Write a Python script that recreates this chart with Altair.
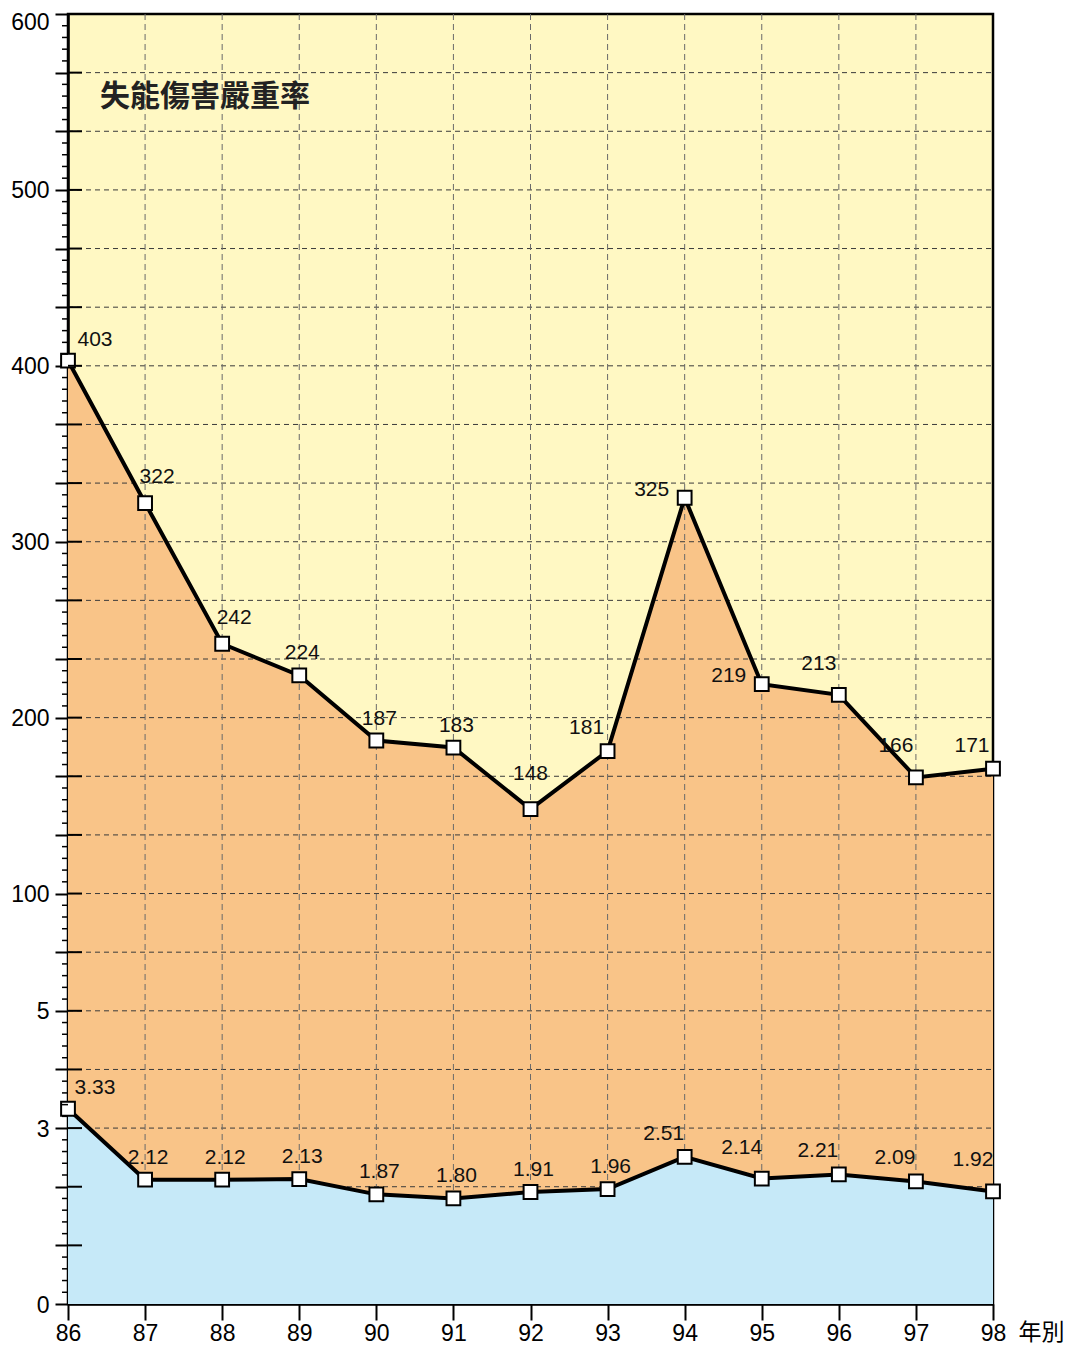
import altair as alt
import pandas as pd

# ---------------- data ----------------
years = [86, 87, 88, 89, 90, 91, 92, 93, 94, 95, 96, 97, 98]
severity = [403, 322, 242, 224, 187, 183, 148, 181, 325, 219, 213, 166, 171]
frequency = [3.33, 2.12, 2.12, 2.13, 1.87, 1.80, 1.91, 1.96, 2.51, 2.14, 2.21, 2.09, 1.92]

# where each value label sits relative to its point (compass-style placement)
severity_label_side = ["first", "ne", "ne", "n", "n", "n", "nn", "nw", "w", "w", "nnw", "nnw", "nw"]
frequency_label_side = ["first", "n", "n", "n", "n", "n", "n", "n", "nw", "nnw", "nw", "nw", "nnw"]

title_text = "失能傷害嚴重率"
x_title = "年別"

# broken y axis: 0..5 (lower), gap, 100..600 (upper); ticks in grid units
y_tick_units = [0, 3, 5, 7, 10, 13, 16, 19, 22]
y_tick_labels = ["0", "3", "5", "100", "200", "300", "400", "500", "600"]

YELLOW = "#FFF8C3"
ORANGE = "#F9C488"
BLUE = "#C6E9F8"

W, H = 925, 1290

# label placement styles: (dx, dy) for centred text
SIDE_STYLE = {
    "first": (27, -21),
    "ne": (12, -26),
    "n": (3, -22),
    "nn": (0, -35),
    "nw": (-21, -23),
    "nnw": (-20, -31),
    "w": (-33, -8),
}


def to_units(v):
    # lower segment 0..5 -> 0..5 units, gap 5..100 -> 5..7, upper 100..600 -> 7..22
    if v <= 5:
        return v
    if v < 100:
        return 5 + (v - 5) / 95 * 2
    return 7 + (v - 100) / 100 * 3


df = pd.DataFrame({"year": years, "sev": severity, "freq": frequency})
df["sev_u"] = df["sev"].map(to_units)
df["freq_u"] = df["freq"].map(to_units)

lab = pd.concat([
    pd.DataFrame({"year": years, "u": [to_units(v) for v in severity],
                  "txt": [f"{v:d}" for v in severity], "side": severity_label_side}),
    pd.DataFrame({"year": years, "u": [to_units(v) for v in frequency],
                  "txt": [f"{v:.2f}" for v in frequency], "side": frequency_label_side}),
], ignore_index=True)

xscale = alt.Scale(domain=[86, 98], nice=False, zero=False)
yscale = alt.Scale(domain=[0, 22], nice=False, zero=False)

label_expr = " : ".join(
    f"datum.value == {u} ? '{l}'" for u, l in zip(y_tick_units, y_tick_labels)
) + " : ''"

xaxis = alt.Axis(
    values=years, tickSize=16, tickWidth=2, tickColor="black",
    domainColor="black", domainWidth=2.5, grid=False,
    labelFont="Liberation Sans", labelFontSize=23, labelColor="black",
    labelPadding=2, labelFlush=False, labelOverlap=False, format="d",
    title=x_title, titleFont="Noto Sans CJK TC", titleFontSize=23,
    titleFontWeight="normal", titleColor="black", titleAlign="left",
    titleBaseline="middle", titleX=W + 25, titleY=28, titleAngle=0,
)
yaxis = alt.Axis(
    values=list(range(0, 23)), tickSize=13, tickWidth=2, tickColor="black",
    domainColor="black", domainWidth=2.5, grid=False,
    labelFont="Liberation Sans", labelFontSize=23, labelColor="black",
    labelPadding=6, labelOverlap=False, labelExpr=label_expr, title=None,
    labelBaseline={"condition": {"test": "datum.value == 22", "value": "top"}, "value": "middle"},
    labelOffset={"condition": {"test": "datum.value == 22", "value": -3}, "value": 1},
)

X = alt.X("year:Q", scale=xscale, axis=xaxis)

base = alt.Chart(df)

orange = base.mark_area(color=ORANGE, opacity=1).encode(
    x=X, y=alt.Y("sev_u:Q", scale=yscale, axis=yaxis)
)

hgrid = alt.Chart(pd.DataFrame({"u": list(range(1, 22))})).mark_rule(
    color="#3a3a3a", strokeDash=[5, 4], strokeWidth=1
).encode(y=alt.Y("u:Q", scale=yscale, axis=yaxis), x=alt.value(0), x2=alt.value(W))

vgrid = alt.Chart(pd.DataFrame({"year": years[1:-1]})).mark_rule(
    color="#6a6a6a", strokeDash=[6, 4], strokeWidth=1
).encode(x=X, y=alt.value(0), y2=alt.value(H))

blue = base.mark_area(color=BLUE, opacity=1).encode(
    x=X, y=alt.Y("freq_u:Q", scale=yscale, axis=yaxis)
)

line_top = base.mark_line(color="black", strokeWidth=4).encode(
    x=X, y=alt.Y("sev_u:Q", scale=yscale, axis=yaxis)
)
line_bot = base.mark_line(color="black", strokeWidth=4).encode(
    x=X, y=alt.Y("freq_u:Q", scale=yscale, axis=yaxis)
)

pt_style = dict(shape="square", filled=True, fill="white", stroke="black",
                strokeWidth=2, size=190, opacity=1)
pts_top = base.mark_point(**pt_style).encode(
    x=X, y=alt.Y("sev_u:Q", scale=yscale, axis=yaxis)
)
pts_bot = base.mark_point(**pt_style).encode(
    x=X, y=alt.Y("freq_u:Q", scale=yscale, axis=yaxis)
)

label_layers = []
for side, (ddx, ddy) in SIDE_STYLE.items():
    label_layers.append(
        alt.Chart(lab).transform_filter(alt.datum.side == side).mark_text(
            font="Liberation Sans", fontSize=21, color="#111", baseline="middle",
            align="center", dx=ddx, dy=ddy,
        ).encode(
            x=X, y=alt.Y("u:Q", scale=yscale, axis=yaxis), text="txt:N"
        )
    )

# inner halves of major ticks and minor ticks on the left axis
inner_ticks = alt.Chart(pd.DataFrame({"u": list(range(1, 22))})).mark_rule(
    color="black", strokeWidth=2
).encode(y=alt.Y("u:Q", scale=yscale, axis=yaxis), x=alt.value(0), x2=alt.value(14))

minor_u = [k + j / 5 for k in range(22) for j in range(1, 5)]
minor_ticks = alt.Chart(pd.DataFrame({"u": minor_u})).mark_rule(
    color="black", strokeWidth=1.5
).encode(y=alt.Y("u:Q", scale=yscale, axis=yaxis), x=alt.value(-6), x2=alt.value(0))

title_mark = alt.Chart(pd.DataFrame({"t": [title_text]})).mark_text(
    align="left", baseline="middle", font="Noto Sans CJK TC", fontSize=30,
    fontWeight="bold", color="#222"
).encode(text="t:N", x=alt.value(32), y=alt.value(83))

chart = alt.layer(
    orange, hgrid, vgrid, blue, line_top, line_bot, pts_top, pts_bot,
    *label_layers, inner_ticks, minor_ticks, title_mark,
).properties(
    width=W, height=H,
    autosize=alt.AutoSizeParams(type="none"),
    padding={"left": 60, "top": 6, "right": 80, "bottom": 43},
    background="white",
).configure_view(
    fill=YELLOW, stroke="black", strokeWidth=2.5
)

chart.save("out.html", embed_options={"renderer": "svg", "actions": False})
